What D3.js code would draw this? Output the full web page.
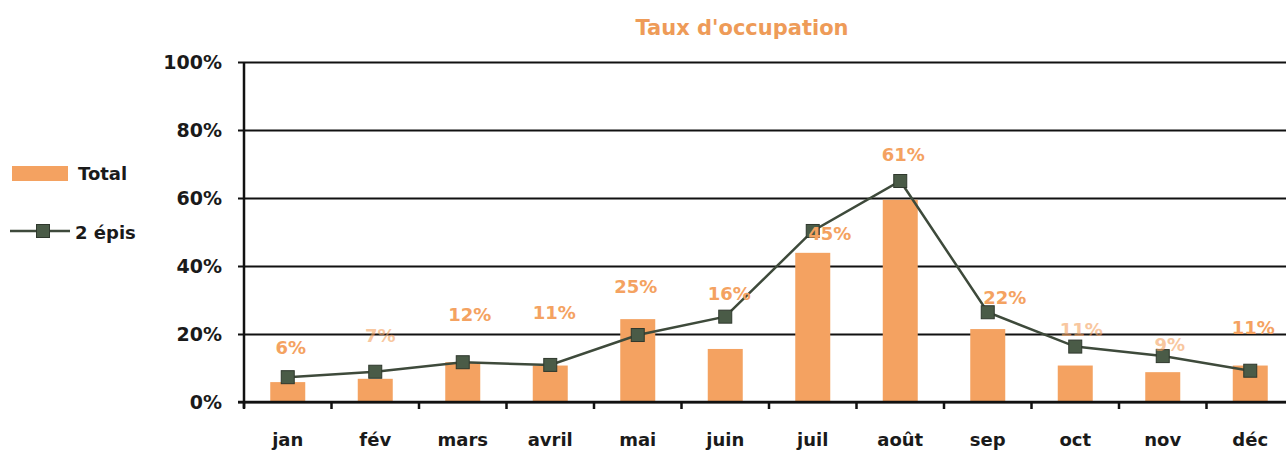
<!DOCTYPE html>
<html lang="fr">
<head>
<meta charset="utf-8">
<title>Taux d'occupation</title>
<script src="https://d3js.org/d3.v7.min.js"></script>
<style>
  body { margin: 0; background: #fff; }
  svg { display: block; font-family: "DejaVu Sans", sans-serif; }
</style>
</head>
<body>
<script>
  // data
  const months = ["jan", "fév", "mars", "avril", "mai", "juin", "juil", "août", "sep", "oct", "nov", "déc"]
  const total = [6, 7, 12, 11, 25, 16, 45, 61, 22, 11, 9, 11]
  const epis = [7.3, 8.9, 11.7, 10.9, 19.7, 25.1, 50.3, 65, 26.4, 16.3, 13.5, 9.2]
  const yTicks = [0, 20, 40, 60, 80, 100]

  // where each Total label sits (in % of the axis) and its x nudge, as on the original
  const labelAt = [15.9, 19.4, 25.6, 26.2, 33.8, 32, 49.4, 72.6, 30.6, 21.2, 16.8, 21.8]
  const labelDx = [3, 5, 7, 4, -2, 4, 17, 3, 17, 6, 7, 3]
  const labelFaded = [false, true, false, false, false, false, false, false, false, true, true, false]

  const width = 1286
  const height = 450
  const x0 = 244, x1 = 1294
  const yTop = 62, yBottom = 402
  const orange = "#f4a261"
  const dark = "#3e4a3b"

  const svg = d3.select("body").append("svg")
    .attr("width", width)
    .attr("height", height)

  const x = d3.scaleBand().domain(months).range([x0, x1]).padding(0)
  const y = d3.scaleLinear().domain([0, 100]).range([yBottom, yTop])

  // title
  svg.append("text")
    .attr("x", 742).attr("y", 35)
    .attr("text-anchor", "middle")
    .attr("font-size", 21).attr("font-weight", "bold")
    .attr("fill", "#ee9b58")
    .text("Taux d'occupation")

  // gridlines + y axis
  const yAxis = d3.axisLeft(y)
    .tickValues(yTicks)
    .tickSize(-(width - x0 + 6))
    .tickPadding(18)
    .tickFormat(d => d + "%")

  const gy = svg.append("g")
    .attr("transform", `translate(${x0 - 6},0)`)
    .call(yAxis)
  gy.select(".domain").remove()
  gy.selectAll(".tick line").attr("stroke", "#111").attr("stroke-width", 2)
  gy.selectAll(".tick text")
    .attr("x", -16)
    .attr("font-size", 19).attr("font-weight", "bold")
    .attr("fill", "#1a1a1a")
    .attr("font-family", "DejaVu Sans, sans-serif")

  // vertical axis line
  svg.append("line")
    .attr("x1", x0).attr("x2", x0)
    .attr("y1", yTop).attr("y2", yBottom + 6)
    .attr("stroke", "#111").attr("stroke-width", 2.5)

  // x axis ticks at band boundaries
  const boundaries = months.map(m => x(m))
  svg.append("g").selectAll("line")
    .data(boundaries)
    .join("line")
    .attr("x1", d => d).attr("x2", d => d)
    .attr("y1", yBottom).attr("y2", yBottom + 7)
    .attr("stroke", "#111").attr("stroke-width", 2.5)

  svg.append("g").selectAll("text")
    .data(months)
    .join("text")
    .attr("x", d => x(d) + x.bandwidth() / 2)
    .attr("y", 446)
    .attr("text-anchor", "middle")
    .attr("font-size", 18).attr("font-weight", "bold")
    .attr("fill", "#1a1a1a")
    .text(d => d)

  // bars
  const barW = x.bandwidth() * 0.4
  svg.append("g").selectAll("rect")
    .data(total)
    .join("rect")
    .attr("x", (d, i) => x(months[i]) + (x.bandwidth() - barW) / 2)
    .attr("y", d => y(d * 0.975))
    .attr("width", barW)
    .attr("height", d => yBottom - y(d * 0.975))
    .attr("fill", orange)

  // redraw baseline over bars
  svg.append("line")
    .attr("x1", x0 - 6).attr("x2", width)
    .attr("y1", yBottom).attr("y2", yBottom)
    .attr("stroke", "#111").attr("stroke-width", 2.5)

  // line series
  const line = d3.line()
    .x((d, i) => x(months[i]) + x.bandwidth() / 2)
    .y(d => y(d))

  svg.append("path")
    .datum(epis)
    .attr("d", line)
    .attr("fill", "none")
    .attr("stroke", dark)
    .attr("stroke-width", 2.5)

  const m = 13
  svg.append("g").selectAll("rect")
    .data(epis)
    .join("rect")
    .attr("x", (d, i) => x(months[i]) + x.bandwidth() / 2 - m / 2)
    .attr("y", d => y(d) - m / 2)
    .attr("width", m).attr("height", m)
    .attr("fill", "#4a5b47")
    .attr("stroke", "#2f382d").attr("stroke-width", 1)

  // Total labels
  svg.append("g").selectAll("text")
    .data(total)
    .join("text")
    .attr("x", (d, i) => x(months[i]) + x.bandwidth() / 2 + labelDx[i])
    .attr("y", (d, i) => y(labelAt[i]))
    .attr("dy", "0.35em")
    .attr("text-anchor", "middle")
    .attr("font-size", 18).attr("font-weight", "bold")
    .attr("fill", orange)
    .attr("opacity", (d, i) => labelFaded[i] ? 0.6 : 1)
    .text(d => d + "%")

  // legend
  const legend = svg.append("g")
  legend.append("rect")
    .attr("x", 12).attr("y", 166)
    .attr("width", 56).attr("height", 15)
    .attr("fill", orange)
  legend.append("text")
    .attr("x", 78).attr("y", 174).attr("dy", "0.35em")
    .attr("font-size", 18).attr("font-weight", "bold").attr("fill", "#1a1a1a")
    .text("Total")
  legend.append("line")
    .attr("x1", 10).attr("x2", 70)
    .attr("y1", 231).attr("y2", 231)
    .attr("stroke", dark).attr("stroke-width", 2.5)
  legend.append("rect")
    .attr("x", 43 - m / 2).attr("y", 231 - m / 2)
    .attr("width", m).attr("height", m)
    .attr("fill", "#4a5b47")
    .attr("stroke", "#2f382d").attr("stroke-width", 1)
  legend.append("text")
    .attr("x", 75).attr("y", 233).attr("dy", "0.35em")
    .attr("font-size", 18).attr("font-weight", "bold").attr("fill", "#1a1a1a")
    .text("2 épis")
</script>
</body>
</html>
